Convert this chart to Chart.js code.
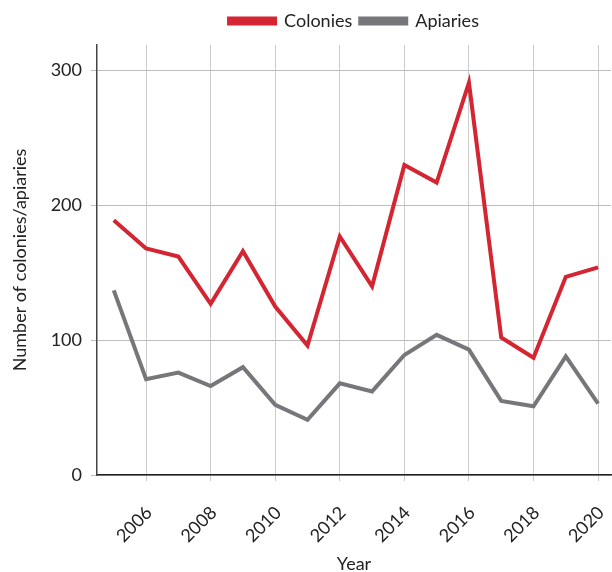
<!DOCTYPE html>
<html>
<head>
<meta charset="utf-8">
<script src="https://cdn.jsdelivr.net/npm/chart.js@4"></script>
<style>
html,body{margin:0;padding:0;background:#fff;}
#wrap{width:612px;height:572px;}
</style>
</head>
<body>
<div id="wrap"><canvas id="c" width="612" height="572"></canvas></div>
<script>
const years = [2005,2006,2007,2008,2009,2010,2011,2012,2013,2014,2015,2016,2017,2018,2019,2020];
const colonies = [189,168,162,127,166,125,96,177,140,230,217,291,102,87,147,154];
const apiaries = [137,71,76,66,80,52,41,68,62,89,104,93,55,51,88,53];
const xTicks = [2006,2008,2010,2012,2014,2016,2018,2020];
const yTicks = [0,100,200,300];
const seriesNames = ['Colonies','Apiaries'];

const font = 'Lato, "Open Sans", sans-serif';
const legendGap = {
  id:'legendGap',
  beforeInit(chart){
    const fit = chart.legend.fit;
    chart.legend.fit = function(){ fit.call(this); this.height += 5; };
  }
};
new Chart(document.getElementById('c'), {
  type: 'line',
  data: {
    datasets: [
      {label: seriesNames[0], data: years.map((y,i)=>({x:y,y:colonies[i]})), borderColor:'#d42532', backgroundColor:'#d42532', borderWidth:4, pointRadius:0, tension:0},
      {label: seriesNames[1], data: years.map((y,i)=>({x:y,y:apiaries[i]})), borderColor:'#77777b', backgroundColor:'#77777b', borderWidth:4, pointRadius:0, tension:0}
    ]
  },
  plugins:[legendGap],
  options: {
    responsive:false,
    animation:false,
    layout:{padding:{left:0,right:1,top:4,bottom:0}},
    plugins:{
      legend:{position:'top',fullSize:false,labels:{boxWidth:46,boxHeight:5,font:{family:font,size:18},color:'#222',padding:8}},
      tooltip:{enabled:false}
    },
    scales:{
      x:{type:'linear',min:2004.48,max:2020.40,
        afterBuildTicks:(a)=>{a.ticks=xTicks.map(v=>({value:v}));},
        afterFit:(s)=>{s.height=97;s.paddingLeft=0;s.paddingRight=0;},
        ticks:{minRotation:45,maxRotation:45,padding:21,labelOffset:3,font:{family:font,size:18},color:'#222',callback:(v)=>String(v)},
        grid:{color:'#cccccc',tickLength:6,lineWidth:1},
        border:{color:'#222',width:1.5},
        title:{display:true,text:'Year',font:{family:font,size:18},color:'#222',padding:{top:0,bottom:-3}}
      },
      y:{min:0,max:319,
        afterBuildTicks:(a)=>{a.ticks=yTicks.map(v=>({value:v}));},
        afterFit:(s)=>{s.width=97;s.paddingTop=0;s.paddingBottom=0;},
        ticks:{font:{family:font,size:18},color:'#222',padding:9},
        grid:{color:'#bdbdbd',tickLength:6,lineWidth:1},
        border:{color:'#444',width:1.5},
        title:{display:true,text:'Number of colonies/apiaries',font:{family:font,size:18},color:'#222',padding:{top:9,bottom:0}}
      }
    }
  }
});
</script>
</body>
</html>
